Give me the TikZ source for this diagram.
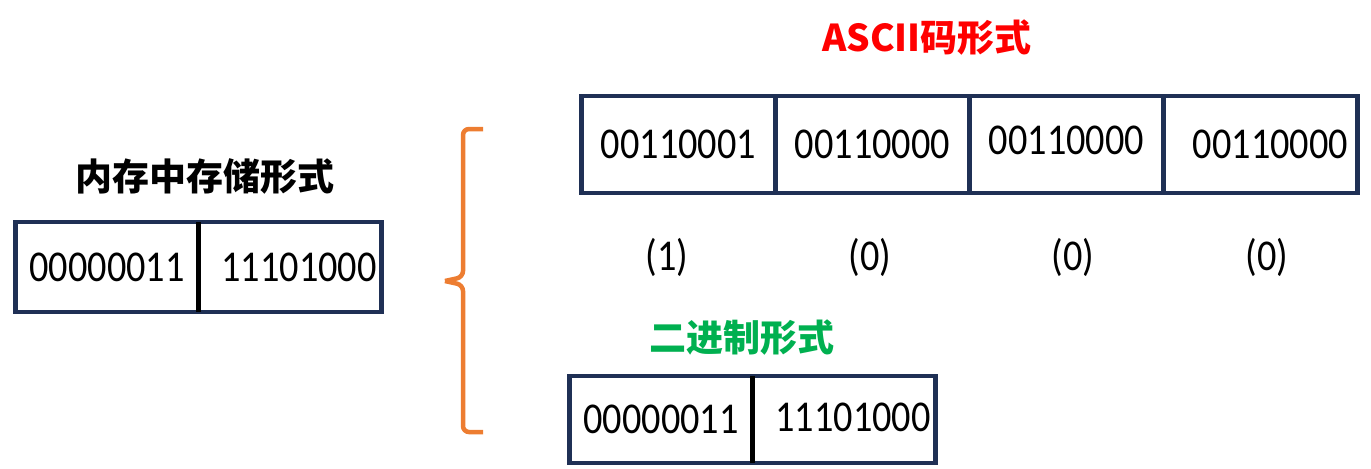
\documentclass[tikz,border=0pt]{standalone}
\usepackage{fontspec}
\newfontfamily\cjkfont{Noto Sans CJK SC}
\newfontfamily\numfont[FakeStretch=0.87]{Carlito}
\usetikzlibrary{positioning}
\definecolor{boxblue}{HTML}{1F3055}
\definecolor{braceorange}{HTML}{ED7D31}
\definecolor{titlegreen}{HTML}{00B050}
\tikzset{
    cell/.style = {rectangle, line width=2.25pt, draw=boxblue, minimum width=91.5pt, minimum height=45pt, inner sep=0pt, outer sep=0pt, font=\numfont\fontsize{22}{26}\selectfont},
    acell/.style = {cell, minimum width=97pt, minimum height=48.5pt},
    title/.style = {font=\cjkfont\bfseries\fontsize{18.5}{22}\selectfont},
    digit/.style = {font=\numfont\fontsize{22}{26}\selectfont},
    divider/.style = {-, line width=2.25pt, black},
    bracel/.style = {-, line width=2.25pt, braceorange, rounded corners=3pt}
}
\begin{document}
\begin{tikzpicture}[x=0.5pt, y=-0.5pt]
  \useasboundingbox (0,0) rectangle (1371,468);
  % memory form
  \node[title] (memtitle) at (205,176) {内存中存储形式};
  \node[cell] (mem1) at (107,267) {00000011};
  \node[cell, right=0pt of mem1] (mem2) {\hspace{9pt}11101000};
  \draw[divider] (mem1.north east) -- (mem1.south east);
  % brace
  \coordinate (btop) at (483,129);
  \coordinate (bmid) at (445,281);
  \coordinate (bbot) at (483,432);
  \draw[bracel] (btop) -- (463,129) -- (463,277) -- (bmid);
  \draw[bracel] (bmid) -- (463,285) -- (463,432) -- (bbot);
  % ascii form
  \node[title, text=red] (asctitle) at (927,38) {ASCII码形式};
  \node[acell] (asc1) at (678.5,144.5) {00110001\hspace{20pt}};
  \node[acell, right=0pt of asc1] (asc2) {00110000};
  \node[acell, right=0pt of asc2] (asc3) {\raisebox{4pt}{00110000}\hspace{-14pt}};
  \node[acell, right=0pt of asc3] (asc4) {\hspace{10pt}00110000};
  \node[digit] (chr1) at (667,257) {(1)};
  \node[digit] (chr2) at (870,257) {(0)};
  \node[digit] (chr3) at (1073,257) {(0)};
  \node[digit] (chr4) at (1267,257) {(0)};
  % binary form
  \node[title, text=titlegreen] (bintitle) at (742,338) {二进制形式};
  \node[cell, minimum height=43.5pt] (bin1) at (661,419.5) {00000011};
  \node[cell, minimum height=43.5pt, right=0pt of bin1] (bin2) {\hspace{9pt}\raisebox{2pt}{11101000}};
  \draw[divider] (bin1.north east) -- (bin1.south east);
\end{tikzpicture}
\end{document}
